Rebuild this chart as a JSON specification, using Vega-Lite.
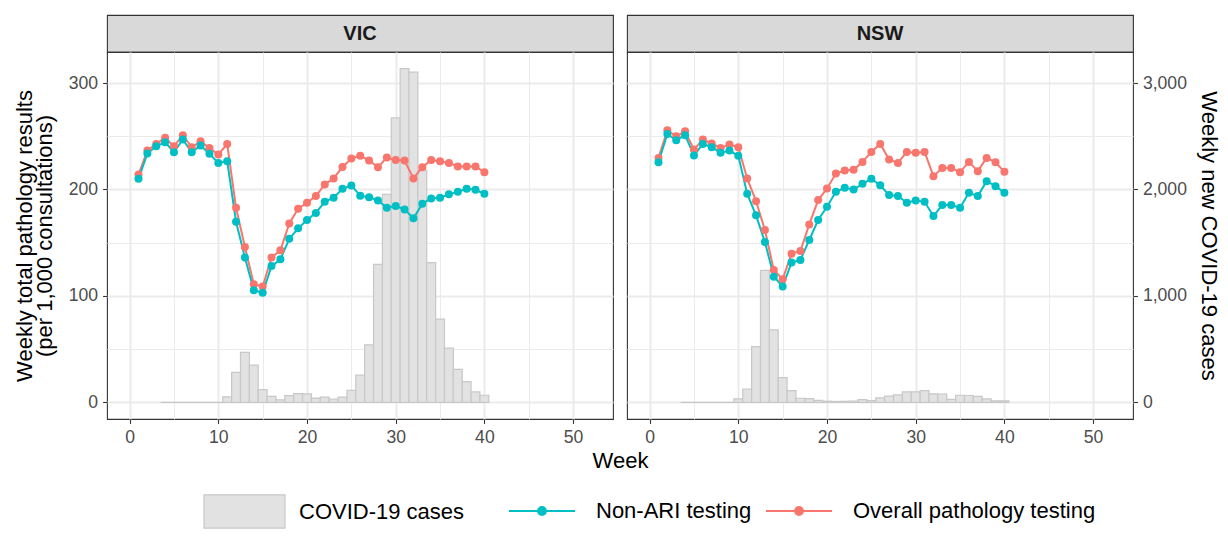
{
  "$schema": "https://vega.github.io/schema/vega-lite/v6.json",
  "background": "white",
  "padding": {"left": 12, "top": 14, "right": 4, "bottom": 4},
  "datasets": {
    "strips": [{"state": "VIC"}, {"state": "NSW"}],
    "cases": [
      {"state":"VIC","week":4,"cases":0},{"state":"VIC","week":5,"cases":0},{"state":"VIC","week":6,"cases":0},{"state":"VIC","week":7,"cases":0},{"state":"VIC","week":8,"cases":0},{"state":"VIC","week":9,"cases":0},{"state":"VIC","week":10,"cases":0},
      {"state":"VIC","week":11,"cases":50},{"state":"VIC","week":12,"cases":281},{"state":"VIC","week":13,"cases":469},{"state":"VIC","week":14,"cases":350},{"state":"VIC","week":15,"cases":119},{"state":"VIC","week":16,"cases":55},{"state":"VIC","week":17,"cases":22},{"state":"VIC","week":18,"cases":63},{"state":"VIC","week":19,"cases":82},{"state":"VIC","week":20,"cases":80},
      {"state":"VIC","week":21,"cases":40},{"state":"VIC","week":22,"cases":48},{"state":"VIC","week":23,"cases":31},{"state":"VIC","week":24,"cases":48},{"state":"VIC","week":25,"cases":112},{"state":"VIC","week":26,"cases":255},{"state":"VIC","week":27,"cases":539},{"state":"VIC","week":28,"cases":1297},{"state":"VIC","week":29,"cases":1954},{"state":"VIC","week":30,"cases":2672},
      {"state":"VIC","week":31,"cases":3135},{"state":"VIC","week":32,"cases":3103},{"state":"VIC","week":33,"cases":2182},{"state":"VIC","week":34,"cases":1313},{"state":"VIC","week":35,"cases":782},{"state":"VIC","week":36,"cases":510},{"state":"VIC","week":37,"cases":310},{"state":"VIC","week":38,"cases":195},{"state":"VIC","week":39,"cases":97},{"state":"VIC","week":40,"cases":66},
      {"state":"NSW","week":4,"cases":0},{"state":"NSW","week":5,"cases":0},{"state":"NSW","week":6,"cases":0},{"state":"NSW","week":7,"cases":0},{"state":"NSW","week":8,"cases":0},{"state":"NSW","week":9,"cases":0},
      {"state":"NSW","week":10,"cases":33},{"state":"NSW","week":11,"cases":125},{"state":"NSW","week":12,"cases":523},{"state":"NSW","week":13,"cases":1240},{"state":"NSW","week":14,"cases":681},{"state":"NSW","week":15,"cases":231},{"state":"NSW","week":16,"cases":110},{"state":"NSW","week":17,"cases":38},{"state":"NSW","week":18,"cases":35},{"state":"NSW","week":19,"cases":18},{"state":"NSW","week":20,"cases":10},
      {"state":"NSW","week":21,"cases":8},{"state":"NSW","week":22,"cases":9},{"state":"NSW","week":23,"cases":12},{"state":"NSW","week":24,"cases":26},{"state":"NSW","week":25,"cases":16},{"state":"NSW","week":26,"cases":42},{"state":"NSW","week":27,"cases":58},{"state":"NSW","week":28,"cases":70},{"state":"NSW","week":29,"cases":97},{"state":"NSW","week":30,"cases":97},
      {"state":"NSW","week":31,"cases":110},{"state":"NSW","week":32,"cases":80},{"state":"NSW","week":33,"cases":78},{"state":"NSW","week":34,"cases":28},{"state":"NSW","week":35,"cases":66},{"state":"NSW","week":36,"cases":64},{"state":"NSW","week":37,"cases":56},{"state":"NSW","week":38,"cases":33},{"state":"NSW","week":39,"cases":13},{"state":"NSW","week":40,"cases":13}
    ],
    "testing": [
      {"state":"VIC","series":"Overall pathology testing","week":1,"value":214},{"state":"VIC","series":"Overall pathology testing","week":2,"value":236.6},{"state":"VIC","series":"Overall pathology testing","week":3,"value":242.8},{"state":"VIC","series":"Overall pathology testing","week":4,"value":248.5},{"state":"VIC","series":"Overall pathology testing","week":5,"value":240.6},{"state":"VIC","series":"Overall pathology testing","week":6,"value":251},{"state":"VIC","series":"Overall pathology testing","week":7,"value":239.7},{"state":"VIC","series":"Overall pathology testing","week":8,"value":245.3},{"state":"VIC","series":"Overall pathology testing","week":9,"value":239},{"state":"VIC","series":"Overall pathology testing","week":10,"value":232.8},
      {"state":"VIC","series":"Overall pathology testing","week":11,"value":242.8},{"state":"VIC","series":"Overall pathology testing","week":12,"value":182.8},{"state":"VIC","series":"Overall pathology testing","week":13,"value":146},{"state":"VIC","series":"Overall pathology testing","week":14,"value":111},{"state":"VIC","series":"Overall pathology testing","week":15,"value":108.8},{"state":"VIC","series":"Overall pathology testing","week":16,"value":136},{"state":"VIC","series":"Overall pathology testing","week":17,"value":142.8},{"state":"VIC","series":"Overall pathology testing","week":18,"value":168},{"state":"VIC","series":"Overall pathology testing","week":19,"value":181.9},{"state":"VIC","series":"Overall pathology testing","week":20,"value":187.5},
      {"state":"VIC","series":"Overall pathology testing","week":21,"value":193.8},{"state":"VIC","series":"Overall pathology testing","week":22,"value":204.7},{"state":"VIC","series":"Overall pathology testing","week":23,"value":210.4},{"state":"VIC","series":"Overall pathology testing","week":24,"value":221.2},{"state":"VIC","series":"Overall pathology testing","week":25,"value":229},{"state":"VIC","series":"Overall pathology testing","week":26,"value":231.8},{"state":"VIC","series":"Overall pathology testing","week":27,"value":227.2},{"state":"VIC","series":"Overall pathology testing","week":28,"value":221},{"state":"VIC","series":"Overall pathology testing","week":29,"value":230},{"state":"VIC","series":"Overall pathology testing","week":30,"value":227.8},
      {"state":"VIC","series":"Overall pathology testing","week":31,"value":227.2},{"state":"VIC","series":"Overall pathology testing","week":32,"value":210.4},{"state":"VIC","series":"Overall pathology testing","week":33,"value":221},{"state":"VIC","series":"Overall pathology testing","week":34,"value":227.8},{"state":"VIC","series":"Overall pathology testing","week":35,"value":226.6},{"state":"VIC","series":"Overall pathology testing","week":36,"value":225},{"state":"VIC","series":"Overall pathology testing","week":37,"value":221.6},{"state":"VIC","series":"Overall pathology testing","week":38,"value":221.6},{"state":"VIC","series":"Overall pathology testing","week":39,"value":221.6},{"state":"VIC","series":"Overall pathology testing","week":40,"value":216.3},
      {"state":"VIC","series":"Non-ARI testing","week":1,"value":210},{"state":"VIC","series":"Non-ARI testing","week":2,"value":233.8},{"state":"VIC","series":"Non-ARI testing","week":3,"value":240.6},{"state":"VIC","series":"Non-ARI testing","week":4,"value":244.4},{"state":"VIC","series":"Non-ARI testing","week":5,"value":235},{"state":"VIC","series":"Non-ARI testing","week":6,"value":247},{"state":"VIC","series":"Non-ARI testing","week":7,"value":235},{"state":"VIC","series":"Non-ARI testing","week":8,"value":241.3},{"state":"VIC","series":"Non-ARI testing","week":9,"value":233.5},{"state":"VIC","series":"Non-ARI testing","week":10,"value":225},
      {"state":"VIC","series":"Non-ARI testing","week":11,"value":226.6},{"state":"VIC","series":"Non-ARI testing","week":12,"value":169.7},{"state":"VIC","series":"Non-ARI testing","week":13,"value":136},{"state":"VIC","series":"Non-ARI testing","week":14,"value":105.4},{"state":"VIC","series":"Non-ARI testing","week":15,"value":103},{"state":"VIC","series":"Non-ARI testing","week":16,"value":128},{"state":"VIC","series":"Non-ARI testing","week":17,"value":134.4},{"state":"VIC","series":"Non-ARI testing","week":18,"value":153.7},{"state":"VIC","series":"Non-ARI testing","week":19,"value":163.5},{"state":"VIC","series":"Non-ARI testing","week":20,"value":171.3},
      {"state":"VIC","series":"Non-ARI testing","week":21,"value":178},{"state":"VIC","series":"Non-ARI testing","week":22,"value":188.4},{"state":"VIC","series":"Non-ARI testing","week":23,"value":192.2},{"state":"VIC","series":"Non-ARI testing","week":24,"value":200.6},{"state":"VIC","series":"Non-ARI testing","week":25,"value":203.8},{"state":"VIC","series":"Non-ARI testing","week":26,"value":194.2},{"state":"VIC","series":"Non-ARI testing","week":27,"value":192.8},{"state":"VIC","series":"Non-ARI testing","week":28,"value":189.7},{"state":"VIC","series":"Non-ARI testing","week":29,"value":182.8},{"state":"VIC","series":"Non-ARI testing","week":30,"value":184.4},
      {"state":"VIC","series":"Non-ARI testing","week":31,"value":181.3},{"state":"VIC","series":"Non-ARI testing","week":32,"value":172.9},{"state":"VIC","series":"Non-ARI testing","week":33,"value":186.6},{"state":"VIC","series":"Non-ARI testing","week":34,"value":191.6},{"state":"VIC","series":"Non-ARI testing","week":35,"value":192.2},{"state":"VIC","series":"Non-ARI testing","week":36,"value":195.4},{"state":"VIC","series":"Non-ARI testing","week":37,"value":197.8},{"state":"VIC","series":"Non-ARI testing","week":38,"value":200.6},{"state":"VIC","series":"Non-ARI testing","week":39,"value":199.7},{"state":"VIC","series":"Non-ARI testing","week":40,"value":196},
      {"state":"NSW","series":"Overall pathology testing","week":1,"value":229.7},{"state":"NSW","series":"Overall pathology testing","week":2,"value":255.7},{"state":"NSW","series":"Overall pathology testing","week":3,"value":250},{"state":"NSW","series":"Overall pathology testing","week":4,"value":254.7},{"state":"NSW","series":"Overall pathology testing","week":5,"value":237.5},{"state":"NSW","series":"Overall pathology testing","week":6,"value":247},{"state":"NSW","series":"Overall pathology testing","week":7,"value":243.2},{"state":"NSW","series":"Overall pathology testing","week":8,"value":239},{"state":"NSW","series":"Overall pathology testing","week":9,"value":242.2},{"state":"NSW","series":"Overall pathology testing","week":10,"value":239.7},
      {"state":"NSW","series":"Overall pathology testing","week":11,"value":210.4},{"state":"NSW","series":"Overall pathology testing","week":12,"value":189},{"state":"NSW","series":"Overall pathology testing","week":13,"value":161.9},{"state":"NSW","series":"Overall pathology testing","week":14,"value":124.4},{"state":"NSW","series":"Overall pathology testing","week":15,"value":115.7},{"state":"NSW","series":"Overall pathology testing","week":16,"value":139.7},{"state":"NSW","series":"Overall pathology testing","week":17,"value":142.2},{"state":"NSW","series":"Overall pathology testing","week":18,"value":167.2},{"state":"NSW","series":"Overall pathology testing","week":19,"value":190},{"state":"NSW","series":"Overall pathology testing","week":20,"value":201},
      {"state":"NSW","series":"Overall pathology testing","week":21,"value":215},{"state":"NSW","series":"Overall pathology testing","week":22,"value":217.9},{"state":"NSW","series":"Overall pathology testing","week":23,"value":218.5},{"state":"NSW","series":"Overall pathology testing","week":24,"value":225.9},{"state":"NSW","series":"Overall pathology testing","week":25,"value":235.3},{"state":"NSW","series":"Overall pathology testing","week":26,"value":242.8},{"state":"NSW","series":"Overall pathology testing","week":27,"value":228.2},{"state":"NSW","series":"Overall pathology testing","week":28,"value":225},{"state":"NSW","series":"Overall pathology testing","week":29,"value":235.3},{"state":"NSW","series":"Overall pathology testing","week":30,"value":234.4},
      {"state":"NSW","series":"Overall pathology testing","week":31,"value":235.3},{"state":"NSW","series":"Overall pathology testing","week":32,"value":212.5},{"state":"NSW","series":"Overall pathology testing","week":33,"value":220.3},{"state":"NSW","series":"Overall pathology testing","week":34,"value":220.3},{"state":"NSW","series":"Overall pathology testing","week":35,"value":216.3},{"state":"NSW","series":"Overall pathology testing","week":36,"value":225.9},{"state":"NSW","series":"Overall pathology testing","week":37,"value":217.2},{"state":"NSW","series":"Overall pathology testing","week":38,"value":229.7},{"state":"NSW","series":"Overall pathology testing","week":39,"value":225.6},{"state":"NSW","series":"Overall pathology testing","week":40,"value":216.6},
      {"state":"NSW","series":"Non-ARI testing","week":1,"value":225.6},{"state":"NSW","series":"Non-ARI testing","week":2,"value":252.2},{"state":"NSW","series":"Non-ARI testing","week":3,"value":246.3},{"state":"NSW","series":"Non-ARI testing","week":4,"value":251},{"state":"NSW","series":"Non-ARI testing","week":5,"value":231.9},{"state":"NSW","series":"Non-ARI testing","week":6,"value":242.8},{"state":"NSW","series":"Non-ARI testing","week":7,"value":239.7},{"state":"NSW","series":"Non-ARI testing","week":8,"value":234.4},{"state":"NSW","series":"Non-ARI testing","week":9,"value":236.6},{"state":"NSW","series":"Non-ARI testing","week":10,"value":231.6},
      {"state":"NSW","series":"Non-ARI testing","week":11,"value":196},{"state":"NSW","series":"Non-ARI testing","week":12,"value":175.7},{"state":"NSW","series":"Non-ARI testing","week":13,"value":150.7},{"state":"NSW","series":"Non-ARI testing","week":14,"value":118.1},{"state":"NSW","series":"Non-ARI testing","week":15,"value":108.8},{"state":"NSW","series":"Non-ARI testing","week":16,"value":131.3},{"state":"NSW","series":"Non-ARI testing","week":17,"value":133.8},{"state":"NSW","series":"Non-ARI testing","week":18,"value":152.5},{"state":"NSW","series":"Non-ARI testing","week":19,"value":171.3},{"state":"NSW","series":"Non-ARI testing","week":20,"value":183.8},
      {"state":"NSW","series":"Non-ARI testing","week":21,"value":197.8},{"state":"NSW","series":"Non-ARI testing","week":22,"value":201.6},{"state":"NSW","series":"Non-ARI testing","week":23,"value":200},{"state":"NSW","series":"Non-ARI testing","week":24,"value":205.3},{"state":"NSW","series":"Non-ARI testing","week":25,"value":210},{"state":"NSW","series":"Non-ARI testing","week":26,"value":204},{"state":"NSW","series":"Non-ARI testing","week":27,"value":194.7},{"state":"NSW","series":"Non-ARI testing","week":28,"value":193.8},{"state":"NSW","series":"Non-ARI testing","week":29,"value":187.5},{"state":"NSW","series":"Non-ARI testing","week":30,"value":189.7},
      {"state":"NSW","series":"Non-ARI testing","week":31,"value":188.4},{"state":"NSW","series":"Non-ARI testing","week":32,"value":175},{"state":"NSW","series":"Non-ARI testing","week":33,"value":185.3},{"state":"NSW","series":"Non-ARI testing","week":34,"value":185.3},{"state":"NSW","series":"Non-ARI testing","week":35,"value":182.8},{"state":"NSW","series":"Non-ARI testing","week":36,"value":196.9},{"state":"NSW","series":"Non-ARI testing","week":37,"value":193.8},{"state":"NSW","series":"Non-ARI testing","week":38,"value":207.8},{"state":"NSW","series":"Non-ARI testing","week":39,"value":203.1},{"state":"NSW","series":"Non-ARI testing","week":40,"value":196.9}
    ]
  },
  "columns": 2,
  "concat": [
    {
      "width": 506, "height": 37,
      "view": {"fill": "#d9d9d9", "stroke": "#333333", "strokeWidth": 1.1},
      "data": {"name": "strips"},
      "transform": [{"filter": "datum.state === 'VIC'"}],
      "mark": {"type": "text", "fontSize": 20, "fontWeight": "bold", "color": "#1a1a1a", "baseline": "middle", "align": "center"},
      "encoding": {"text": {"field": "state", "type": "nominal"}}
    },
    {
      "width": 506, "height": 37,
      "view": {"fill": "#d9d9d9", "stroke": "#333333", "strokeWidth": 1.1},
      "data": {"name": "strips"},
      "transform": [{"filter": "datum.state === 'NSW'"}],
      "mark": {"type": "text", "fontSize": 20, "fontWeight": "bold", "color": "#1a1a1a", "baseline": "middle", "align": "center"},
      "encoding": {"text": {"field": "state", "type": "nominal"}}
    },
    {
      "width": 506, "height": 367,
      "view": {"fill": "white", "stroke": "#333333", "strokeWidth": 1.1},
      "layer": [
        {
          "data": {"name": "cases"},
          "transform": [{"filter": "datum.state === 'VIC'"}],
          "mark": {"type": "bar", "orient": "vertical", "width": 8.87, "stroke": "#c8c8c8", "strokeWidth": 1.2},
          "encoding": {
            "x": {"field": "week", "type": "quantitative", "scale": {"domain": [-2.55, 54.5], "nice": false, "zero": false, "padding": 0},
              "axis": {"orient": "bottom", "values": [0, 10, 20, 30, 40, 50], "grid": true, "gridWidth": 2, "title": "Week", "titleX": 513, "titlePadding": 4}},
            "y": {"field": "cases", "type": "quantitative", "scale": {"domain": [-157, 3292], "nice": false, "zero": false, "padding": 0}, "axis": null},
            "fill": {"datum": "COVID-19 cases", "scale": {"domain": ["COVID-19 cases"], "range": ["#e2e2e2"]},
              "legend": {"orient": "none", "legendX": 96, "legendY": 455, "title": null, "symbolType": "M-1,-0.41H1V0.41H-1Z", "symbolSize": 6561, "symbolStrokeColor": "#c8c8c8", "symbolStrokeWidth": 1.2, "symbolFillColor": "#e2e2e2", "labelOffset": 13}}
          }
        },
        {
          "data": {"name": "testing"},
          "transform": [{"filter": "datum.state === 'VIC'"}],
          "encoding": {
            "color": {"field": "series", "type": "nominal",
              "scale": {"domain": ["Non-ARI testing", "Overall pathology testing"], "range": ["#00BFC4", "#F8766D"]},
              "legend": {"orient": "none", "direction": "horizontal", "legendX": 401, "legendY": 462, "title": null, "symbolType": "M-1,0H1M-0.12,0A0.12,0.12 0 1,1 0.12,0A0.12,0.12 0 1,1 -0.12,0Z", "symbolSize": 4356, "symbolStrokeWidth": 2, "labelOffset": 20, "columnPadding": 10,
                "encode": {"symbols": {"update": {"fill": {"signal": "scale('color', datum.value)"}, "stroke": {"signal": "scale('color', datum.value)"}, "opacity": {"value": 1}}}}}
            }
          },
          "layer": [
            {
              "mark": {"type": "line", "strokeWidth": 2},
              "encoding": {
                "x": {"field": "week", "type": "quantitative", "axis": {"orient": "bottom", "values": [5, 15, 25, 35, 45], "grid": true, "gridWidth": 1, "labels": false, "ticks": false, "title": null}},
                "y": {"field": "value", "type": "quantitative", "scale": {"domain": [-15.7, 329.2], "nice": false, "zero": false, "padding": 0},
                  "axis": {"orient": "left", "values": [0, 100, 200, 300], "grid": true, "gridWidth": 2, "title": ["Weekly total pathology results", "(per 1,000 consultations)"], "titlePadding": 12, "titleLineHeight": 20}}
              }
            },
            {
              "mark": {"type": "point", "filled": true, "size": 64, "opacity": 1},
              "encoding": {
                "x": {"field": "week", "type": "quantitative", "axis": null},
                "y": {"field": "value", "type": "quantitative", "axis": {"orient": "left", "values": [50, 150, 250], "grid": true, "gridWidth": 1, "labels": false, "ticks": false, "title": null}}
              }
            }
          ],
          "resolve": {"axis": {"x": "independent", "y": "independent"}}
        }
      ],
      "resolve": {"scale": {"y": "independent"}, "axis": {"x": "independent", "y": "independent"}}
    },
    {
      "width": 506, "height": 367,
      "view": {"fill": "white", "stroke": "#333333", "strokeWidth": 1.1},
      "layer": [
        {
          "data": {"name": "cases"},
          "transform": [{"filter": "datum.state === 'NSW'"}],
          "mark": {"type": "bar", "orient": "vertical", "width": 8.87, "stroke": "#c8c8c8", "strokeWidth": 1.2},
          "encoding": {
            "x": {"field": "week", "type": "quantitative", "scale": {"domain": [-2.55, 54.5], "nice": false, "zero": false, "padding": 0},
              "axis": {"orient": "bottom", "values": [0, 10, 20, 30, 40, 50], "grid": true, "gridWidth": 2, "title": null}},
            "y": {"field": "cases", "type": "quantitative", "scale": {"domain": [-157, 3292], "nice": false, "zero": false, "padding": 0},
              "axis": {"orient": "right", "values": [0, 1000, 2000, 3000], "format": ",.0f", "grid": false, "title": "Weekly new COVID-19 cases", "titlePadding": 10}},
            "fill": {"datum": "COVID-19 cases"}
          }
        },
        {
          "data": {"name": "testing"},
          "transform": [{"filter": "datum.state === 'NSW'"}],
          "encoding": {
            "color": {"field": "series", "type": "nominal"}
          },
          "layer": [
            {
              "mark": {"type": "line", "strokeWidth": 2},
              "encoding": {
                "x": {"field": "week", "type": "quantitative", "axis": {"orient": "bottom", "values": [5, 15, 25, 35, 45], "grid": true, "gridWidth": 1, "labels": false, "ticks": false, "title": null}},
                "y": {"field": "value", "type": "quantitative", "scale": {"domain": [-15.7, 329.2], "nice": false, "zero": false, "padding": 0},
                  "axis": {"orient": "left", "values": [0, 100, 200, 300], "grid": true, "gridWidth": 2, "labels": false, "ticks": false, "title": null}}
              }
            },
            {
              "mark": {"type": "point", "filled": true, "size": 64, "opacity": 1},
              "encoding": {
                "x": {"field": "week", "type": "quantitative", "axis": null},
                "y": {"field": "value", "type": "quantitative", "axis": {"orient": "left", "values": [50, 150, 250], "grid": true, "gridWidth": 1, "labels": false, "ticks": false, "title": null}}
              }
            }
          ],
          "resolve": {"axis": {"x": "independent", "y": "independent"}}
        }
      ],
      "resolve": {"scale": {"y": "independent"}, "axis": {"x": "independent", "y": "independent"}}
    }
  ],
  "spacing": {"row": 0, "column": 14},
  "bounds": "flush",
  "resolve": {"scale": {"color": "shared", "fill": "shared"}, "legend": {"color": "shared", "fill": "shared"}},
  "config": {
    "font": "Liberation Sans",
    "view": {"stroke": null},
    "axis": {"labelFontSize": 17.6, "labelColor": "#4d4d4d", "titleFontSize": 22, "titleFontWeight": "normal", "titleColor": "#000000", "tickColor": "#333333", "tickWidth": 1.1, "tickSize": 4.4, "gridColor": "#ebebeb", "domain": false, "labelPadding": 5},
    "legend": {"labelFontSize": 22, "labelColor": "#000000", "labelLimit": 0}
  }
}
